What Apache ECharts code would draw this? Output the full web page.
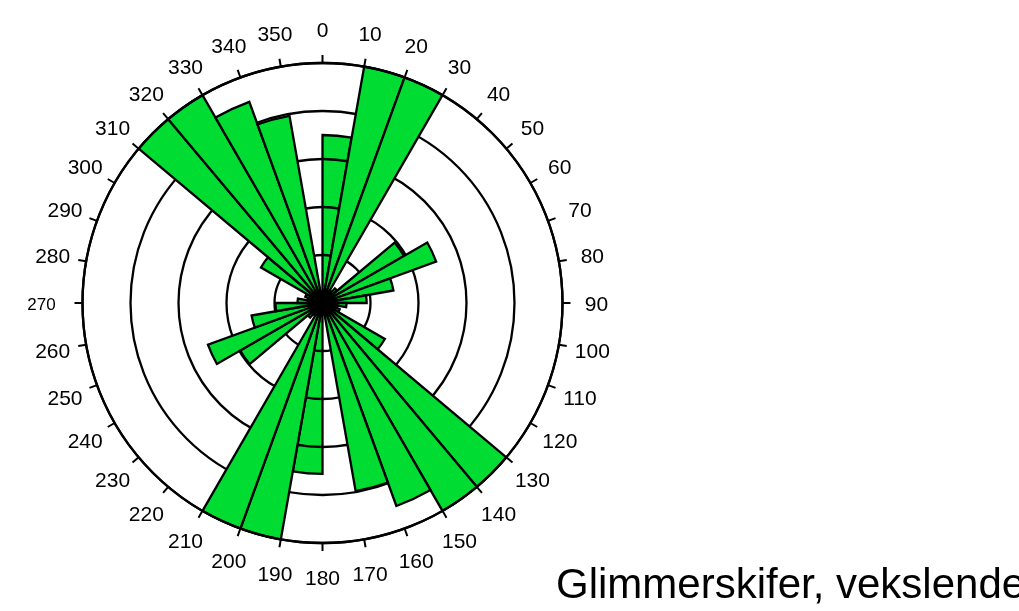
<!DOCTYPE html>
<html><head><meta charset="utf-8">
<script src="https://cdn.jsdelivr.net/npm/echarts@6/dist/echarts.min.js"></script>
<style>html,body{margin:0;padding:0;background:#fff}#c{width:1019px;height:611px}</style>
</head><body><div id="c"></div>
<script>
// Sector categories (10-degree classes, clockwise from north)
const sectors = ['0-10','10-20','20-30','30-40','40-50','50-60','60-70','70-80','80-90',
  '90-100','100-110','110-120','120-130','130-140','140-150','150-160','160-170','170-180',
  '180-190','190-200','200-210','210-220','220-230','230-240','240-250','250-260','260-270',
  '270-280','280-290','290-300','300-310','310-320','320-330','330-340','340-350','350-360'];
// Bar lengths (ring spacing = 5)
const counts = [17.5, 25, 25, 1.5, 2.0, 9.8, 12.6, 7.5, 4.6,
  2.5, 1.6, 1.9, 7.5, 25, 25, 22.5, 19.9, 1.2,
  17.8, 25, 25, 1.5, 2.0, 9.9, 12.7, 7.5, 4.9,
  2.6, 1.6, 1.9, 7.4, 25, 25, 22.3, 19.8, 1.2];
// Sectors whose bars are drawn beneath the ring lines in the original
const underSectors = ['0-10', '180-190'];
// Angle tick labels
const angleTicks = [0,10,20,30,40,50,60,70,80,90,100,110,120,130,140,150,160,170,
  180,190,200,210,220,230,240,250,260,270,280,290,300,310,320,330,340,350];
const smallLabels = [270];
const ringTicks = [0, 5, 10, 15, 20, 25];
const titleText = 'Glimmerskifer, vekslende';

const underData = sectors.map((s, i) => underSectors.includes(s) ? counts[i] : '-');
const overData = sectors.map((s, i) => underSectors.includes(s) ? '-' : counts[i]);
const labelData = angleTicks.map(a => [1, a]);

const FONT = '"Liberation Sans", Arial, sans-serif';
const GREEN = '#00dc32';
const barStyle = { color: GREEN, borderColor: '#000', borderWidth: 2.3 };
const C = [322.5, 303], R = 240, CL = [322.5, 305], RL = 274;

const chart = echarts.init(document.getElementById('c'), null, { renderer: 'canvas' });
chart.setOption({
  animation: false,
  backgroundColor: '#fff',
  title: {
    text: titleText, left: 551, top: 560,
    textStyle: { fontFamily: FONT, fontSize: 42, fontWeight: 'normal', color: '#000' }
  },
  polar: [{ center: C, radius: R }, { center: C, radius: R }, { center: CL, radius: RL }],
  angleAxis: [
    { polarIndex: 0, type: 'category', data: sectors, startAngle: 90, clockwise: true,
      boundaryGap: true, axisLine: { show: false }, axisTick: { show: false },
      axisLabel: { show: false }, splitLine: { show: false } },
    { polarIndex: 1, type: 'value', min: 0, max: 360, interval: 10, startAngle: 90,
      clockwise: true, z: 5,
      axisLine: { show: true, lineStyle: { color: '#000', width: 2.3 } },
      axisTick: { show: true, inside: false, length: 8, lineStyle: { color: '#000', width: 2 } },
      axisLabel: { show: false },
      splitLine: { show: false } },
    { polarIndex: 2, type: 'value', min: 0, max: 360, interval: 10, startAngle: 90,
      clockwise: true, show: false }
  ],
  radiusAxis: [
    { polarIndex: 0, type: 'value', min: ringTicks[0], max: ringTicks[ringTicks.length - 1],
      interval: ringTicks[1] - ringTicks[0], z: 2,
      axisLine: { show: false }, axisTick: { show: false }, axisLabel: { show: false },
      splitLine: { show: true, lineStyle: { color: '#000', width: 2.3 } } },
    { polarIndex: 1, type: 'value', min: 0, max: 25, show: false },
    { polarIndex: 2, type: 'value', min: 0, max: 1, show: false }
  ],
  series: [
    { type: 'bar', coordinateSystem: 'polar', polarIndex: 0, data: underData,
      barCategoryGap: '0%', barGap: '-100%', z: 1, itemStyle: barStyle },
    { type: 'bar', coordinateSystem: 'polar', polarIndex: 0, data: overData,
      barCategoryGap: '0%', barGap: '-100%', z: 3, itemStyle: barStyle },
    { type: 'scatter', coordinateSystem: 'polar', polarIndex: 2, data: labelData,
      clip: false, symbolSize: 1, silent: true, z: 6,
      itemStyle: { color: 'rgba(0,0,0,0)' },
      label: {
        show: true, position: 'inside', color: '#000', fontFamily: FONT, fontSize: 21,
        textBorderWidth: 0, opacity: 1,
        formatter: p => smallLabels.includes(p.value[1]) ? '{s|' + p.value[1] + '}' : String(p.value[1]),
        rich: { s: { fontSize: 17, fontFamily: FONT, color: '#000', textBorderWidth: 0, padding: [0, 14, 0, 0] } }
      } }
  ]
});
</script>
</body></html>
